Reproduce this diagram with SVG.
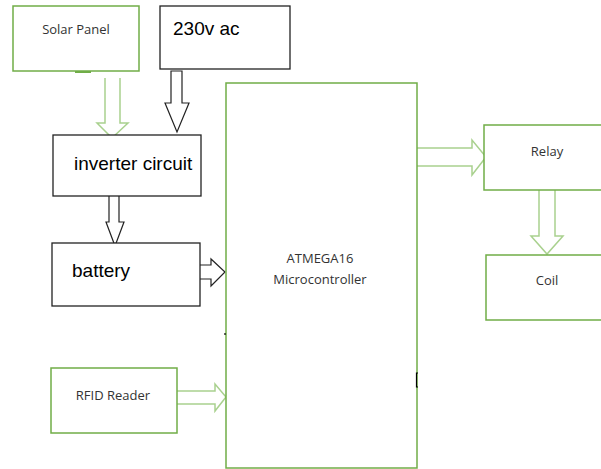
<svg xmlns="http://www.w3.org/2000/svg" width="601" height="469" viewBox="0 0 601 469">
<style>
.g{fill:#fff;stroke:#70ad47;stroke-width:1.5}
.k{fill:#fff;stroke:#222;stroke-width:1.3}
.ga{fill:#fff;stroke:#a9d18e;stroke-width:1.5}
.ka{fill:#fff;stroke:#222;stroke-width:1.2}
.s{font-family:"Open Sans","Liberation Sans",sans-serif;font-size:13px;fill:#333}
.b{font-family:"Liberation Sans",Arial,sans-serif;font-size:19px;fill:#000}
</style>
<rect width="601" height="469" fill="#fff"/>
<g id="connectors">
<path class="ga" d="M105,78 V123 H97 L112,138 L128,123 H120 V78"/>
<path class="ka" d="M171,71 V103 H165 L177,132 L189,103 H182 V71 Z"/>
<path class="ka" d="M109,196 V222 H106 L115,246 L124,222 H119 V196"/>
<path class="ka" d="M200,265 H211 V259 L225,272 L211,286 V279 H200"/>
<path class="ga" d="M177,391 H215 V384 L226,397 L215,411 V404 H177"/>
<path class="ga" d="M417,148 H472 V140 L486,157 L472,175 V166 H417"/>
<path class="ga" d="M539,190 V236 H531 L547,254 L563,236 H555 V190"/>
</g>
<g id="solar">
<rect class="g" x="13" y="6" width="126" height="65"/>
<path d="M75,72 H91" stroke="#70ad47" stroke-width="2"/>
<text class="s" x="76" y="34" text-anchor="middle">Solar Panel</text>
</g>
<g id="ac">
<rect class="k" x="160" y="6" width="130" height="63"/>
<text class="b" x="173" y="35">230v ac</text>
</g>
<g id="inverter">
<rect class="k" x="53" y="135" width="148" height="61"/>
<text class="b" x="74" y="170">inverter circuit</text>
</g>
<g id="battery">
<rect class="k" x="52" y="243" width="148" height="63"/>
<text class="b" x="72" y="277">battery</text>
</g>
<g id="rfid">
<rect class="g" x="51" y="368" width="126" height="65"/>
<text class="s" x="113" y="400" text-anchor="middle">RFID Reader</text>
</g>
<g id="mcu">
<rect class="g" x="226" y="83" width="191" height="385"/>
<text class="s" x="320" y="263" text-anchor="middle">ATMEGA16</text>
<text class="s" x="320" y="284" text-anchor="middle">Microcontroller</text>
<path d="M225,333 v2" stroke="#000" stroke-width="1.2"/>
<path d="M418,373 h-1.5 v14 h1.5" fill="none" stroke="#000" stroke-width="1.2"/>
</g>
<g id="relay">
<rect class="g" x="484" y="125" width="130" height="65"/>
<text class="s" x="547" y="156" text-anchor="middle">Relay</text>
</g>
<g id="coil">
<rect class="g" x="486" y="255" width="130" height="65"/>
<text class="s" x="547" y="285" text-anchor="middle">Coil</text>
</g>
</svg>
